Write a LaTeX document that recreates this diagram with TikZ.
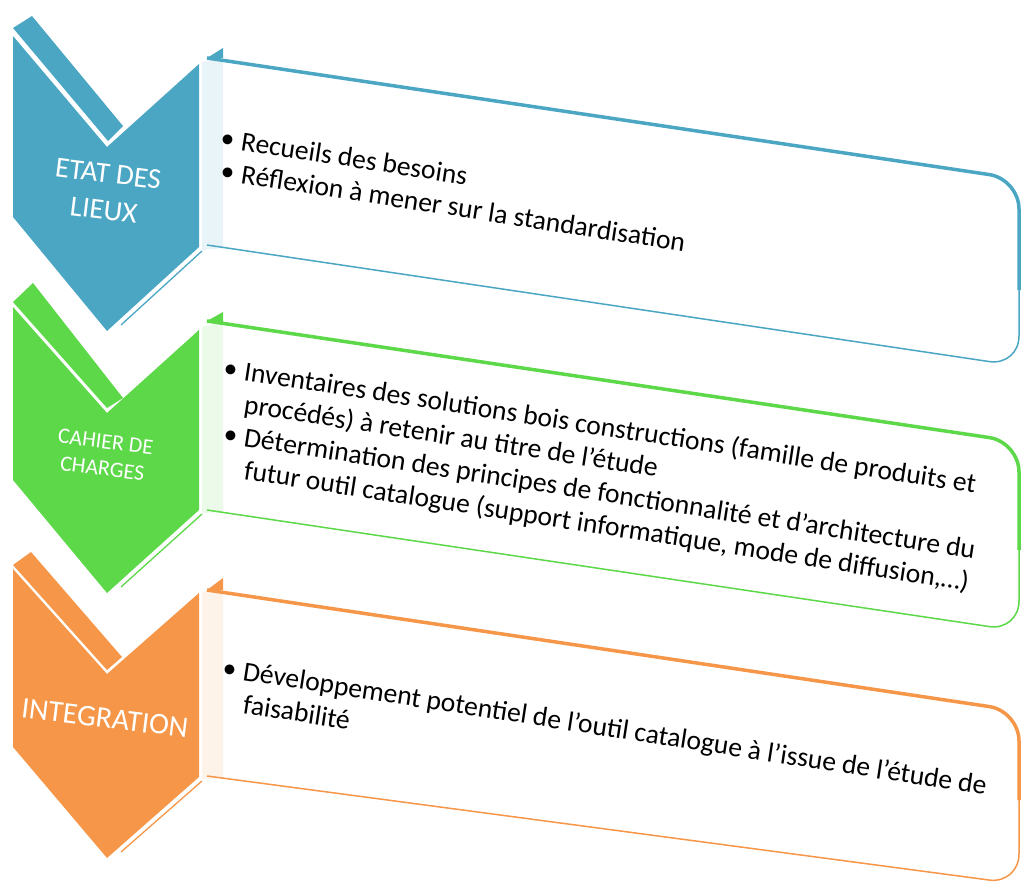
\documentclass[tikz,border=0pt]{standalone}
\usepackage{fontspec}
\setmainfont{Carlito}
\definecolor{lieuxblue}{RGB}{75,166,196}
\definecolor{chargesgreen}{RGB}{92,216,72}
\definecolor{integorange}{RGB}{245,150,72}

\begin{document}
\begin{tikzpicture}[x=1pt,y=-1pt]
		\tikzstyle{phase}=[text=white, align=center, rotate=-7, inner sep=0pt]
		\tikzstyle{itemline}=[anchor=base west, inner sep=0pt, rotate=-8.8, font=\fontsize{27.6}{33}\selectfont]
		\tikzstyle{topedge}=[line width=3.5pt, rounded corners=30pt]
		\tikzstyle{botedge}=[line width=1.5pt, rounded corners=30pt]
		\tikzstyle{sliver}=[line width=1.3pt]
		\newcommand{\bul}{\llap{\textbullet\hspace{7pt}}}

		\fill[white] (0,0) rectangle (1023,888);
		\useasboundingbox (0,0) rectangle (1023,888);

		% Draw ETAT DES LIEUX
		\fill[lieuxblue] (13,28) -- (32,16) -- (123,126) -- (108,141) -- cycle;
		\fill[lieuxblue] (13,36) -- (107,147) -- (199,64) -- (199,247) -- (107,331) -- (13,217) -- cycle;
		\draw[lieuxblue, sliver] (121,325) -- (202,251);
		\fill[lieuxblue!12] (202,62) -- (223,58) -- (223,248) -- (202,250) -- cycle;
		\fill[lieuxblue] (207,58) -- (223,48) -- (223,58) -- cycle;
		\draw[lieuxblue, topedge] (207,58) -- (1019,179) -- (1019,290);
		\draw[lieuxblue, botedge] (1019,280) -- (1019,366) -- (207,245);
		\node[phase, font=\fontsize{29}{37}\selectfont] (lieux) at (106,192) {ETAT DES\\LIEUX};
		\node[itemline] (lieux1) at (240,150) {\bul Recueils des besoins};
		\node[itemline] (lieux2) at (240,183) {\bul Réflexion à mener sur la standardisation};

		% Draw CAHIER DE CHARGES
		\fill[chargesgreen] (13,302) -- (33,283) -- (123,398) -- (107,408) -- cycle;
		\fill[chargesgreen] (13,307) -- (107,413) -- (199,330) -- (199,510) -- (107,593) -- (13,480) -- cycle;
		\draw[chargesgreen, sliver] (121,587) -- (202,514);
		\fill[chargesgreen!12] (202,327) -- (223,322) -- (223,512) -- (202,513) -- cycle;
		\fill[chargesgreen] (207,321) -- (223,312) -- (223,323) -- cycle;
		\draw[chargesgreen, topedge] (207,321) -- (1019,442) -- (1019,550);
		\draw[chargesgreen, botedge] (1019,540) -- (1019,631) -- (207,510);
		\node[phase, font=\fontsize{22}{27}\selectfont] (charges) at (104,455) {CAHIER DE\\CHARGES};
		\node[itemline] (charges1) at (243,380) {\bul Inventaires des solutions bois constructions (famille de produits et};
		\node[itemline] (charges2) at (243,413) {procédés) à retenir au titre de l’étude};
		\node[itemline] (charges3) at (243,446) {\bul Détermination des principes de fonctionnalité et d’architecture du};
		\node[itemline] (charges4) at (243,479) {futur outil catalogue (support informatique, mode de diffusion,…)};

		% Draw INTEGRATION
		\fill[integorange] (13,565) -- (31,552) -- (122,657) -- (107,670) -- cycle;
		\fill[integorange] (13,569) -- (107,674) -- (199,593) -- (199,777) -- (107,858) -- (13,747) -- cycle;
		\draw[integorange, sliver] (121,852) -- (202,781);
		\fill[integorange!12] (202,592) -- (223,588) -- (223,778) -- (202,779) -- cycle;
		\fill[integorange] (207,590) -- (223,578) -- (223,590) -- cycle;
		\draw[integorange, topedge] (207,590) -- (1019,711) -- (1019,800);
		\draw[integorange, botedge] (1019,790) -- (1019,884) -- (207,776);
		\node[phase, font=\fontsize{30}{36}\selectfont] (integ) at (105,718) {INTEGRATION};
		\node[itemline] (integ1) at (242,680) {\bul Développement potentiel de l’outil catalogue à l’issue de l’étude de};
		\node[itemline] (integ2) at (242,713) {faisabilité};
\end{tikzpicture}
\end{document}
